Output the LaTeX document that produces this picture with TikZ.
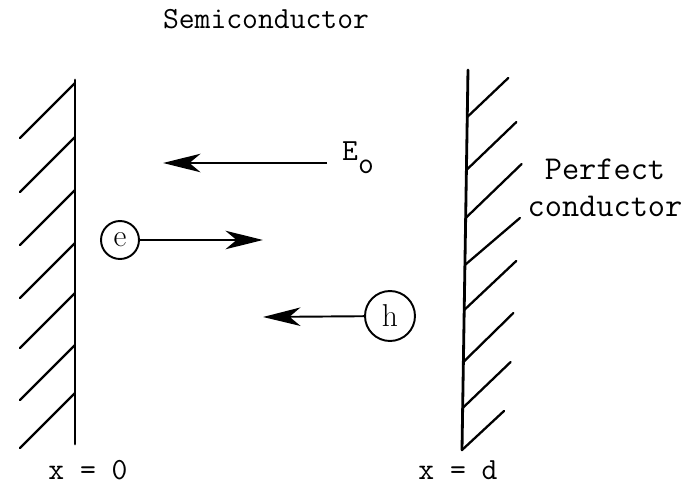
\documentclass[tikz,border=0pt]{standalone}
\usepackage{fontspec}
\usetikzlibrary{arrows.meta}
\tikzset{
  wall/.style={line width=1.6pt,line cap=round},
  hatch/.style={line width=1.3pt,line cap=round},
  arrow/.style={-{Stealth[length=0.75cm,width=0.37cm,inset=0.22cm]},line width=1.1pt},
  charge/.style={circle,draw,line width=1.1pt,inner sep=0pt,font=\fontsize{18}{20}\selectfont},
  typed/.style={font=\ttfamily\fontsize{17.5}{20}\selectfont,align=center},
}
\begin{document}
\begin{tikzpicture}[x=0.02cm,y=-0.02cm]
\useasboundingbox (0,0) rectangle (698,484);

\node[typed,anchor=base] (semi) at (266,28) {Semiconductor};
\node[typed,font=\ttfamily\fontsize{19}{21}\selectfont] (perfect) at (605,188) {Perfect\\conductor};

% left wall, x = 0
\draw[wall] (75,80) -- (75,444);
\foreach \y in {83,137,190,243,293,345,393}
  \draw[hatch] (75,\y) -- ++(-55,55);
\node[typed,anchor=base] (xzero) at (88,479) {x = 0};

% right wall, x = d
\draw[wall] (468,70) -- (462,450);
\foreach \y/\dx/\dy in {117/41/-39,170/50/-48,218/56/-54,265/55/-47,310/52/-49,362/50/-49,408/48/-46,450/42/-39}
  \draw[hatch] ({468-6*(\y-70)/380},\y) -- ++(\dx,\dy);
\node[typed,anchor=base] (xd) at (458,479) {x = d};

% field
\node[typed,anchor=base west] (field) at (336,160) {E\raisebox{-7.5pt}{o}};
\coordinate (fieldtail) at (327,163);
\coordinate (fieldtip) at (163,163);
\draw[arrow] (fieldtail) -- (fieldtip);

% carriers
\node[charge,minimum size=0.76cm] (e) at (120,240) {e};
\coordinate (etip) at (263,240);
\draw[arrow] (e) -- (etip);

\node[charge,minimum size=1.0cm] (h) at (390,316) {h};
\coordinate (htip) at (263,317);
\draw[arrow] (h) -- (htip);

\end{tikzpicture}
\end{document}
